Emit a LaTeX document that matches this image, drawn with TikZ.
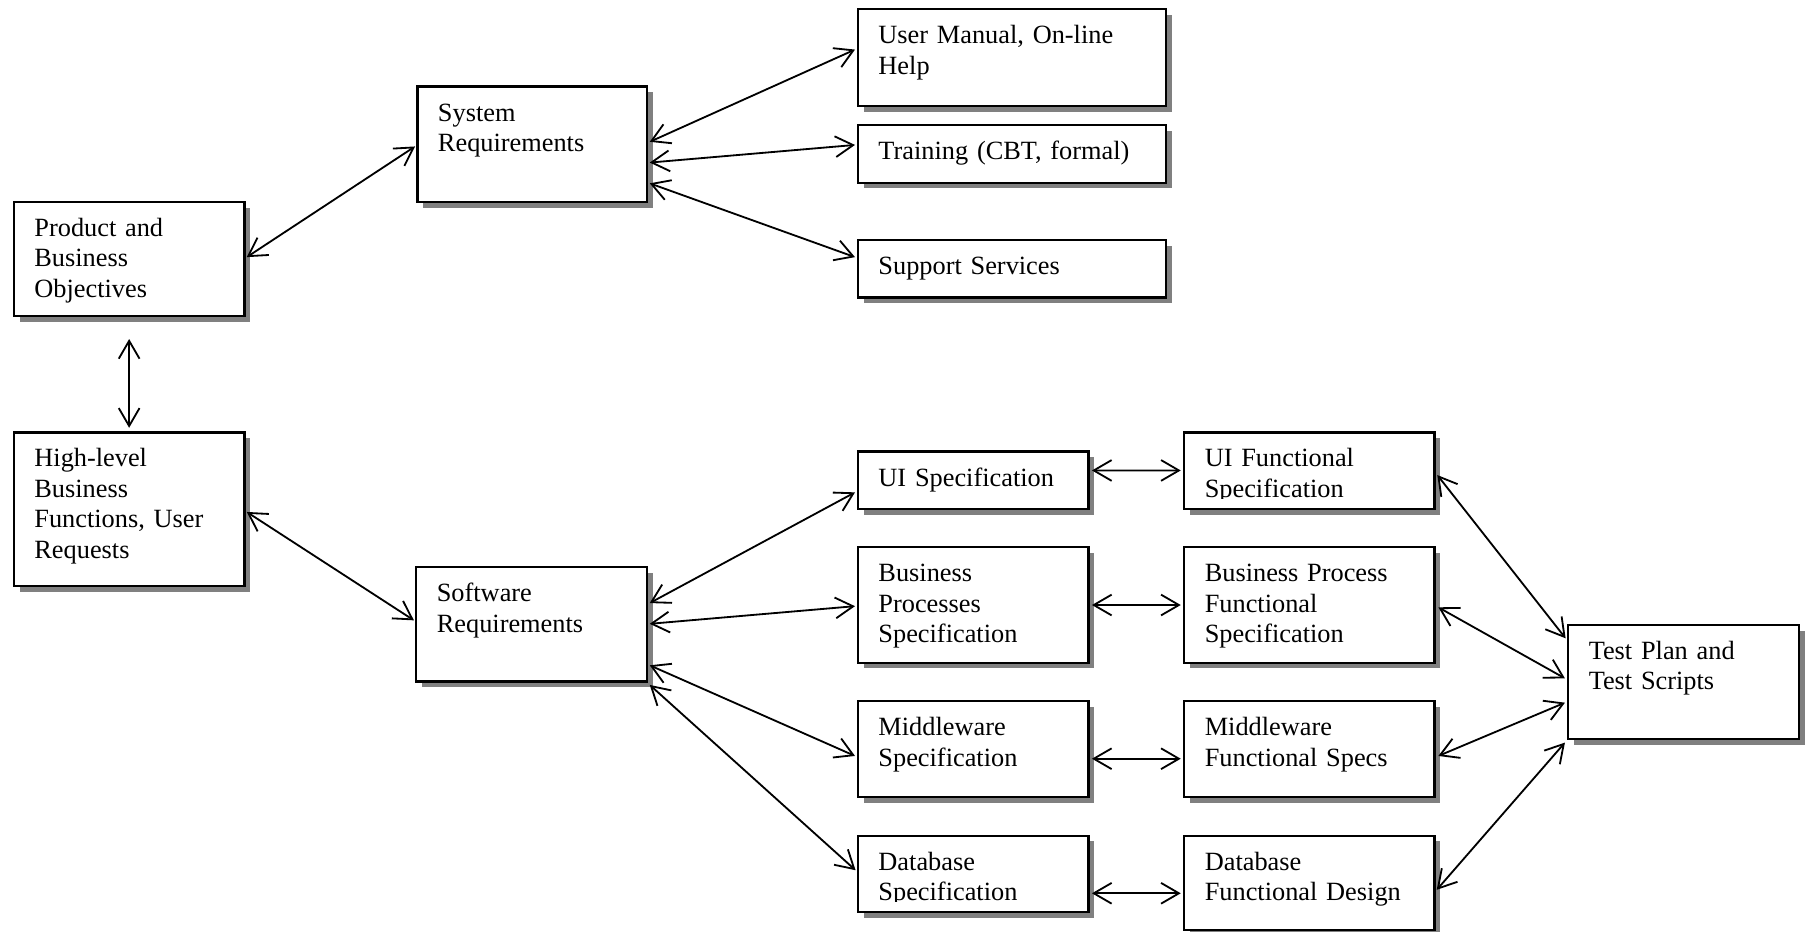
\documentclass[tikz,border=0pt]{standalone}
\usepackage{fontspec}
\setmainfont{Liberation Serif}
\usetikzlibrary{shadows,arrows.meta}
\def\pxu{0.02cm}
\definecolor{shadowgray}{HTML}{808080}
\tikzset{
  rbox/.style={draw, fill=white, line width=1.1pt, inner sep=0pt, outer sep=0pt,
    anchor=north west,
    drop shadow={shadow xshift=0.1cm, shadow yshift=-0.1cm, fill=shadowgray, opacity=1}},
  rtxt/.style={anchor=base west, inner sep=0pt, align=left, text width=8cm,
    font=\fontsize{13pt}{15pt}\selectfont},
  conn/.style={line width=0.9pt, {Straight Barb[length=0.31cm,width=0.36cm]}-{Straight Barb[length=0.31cm,width=0.36cm]}}
}
\newcommand\reqbox[6]{%
  \node[rbox, minimum width=#4*\pxu, minimum height=#5*\pxu] (#1) at (#2,#3) {};
  \begin{scope}
    \clip (#2,#3) rectangle ({#2+#4},{#3+#5-9});
    \node[rtxt] at ({#2+17.5},{#3+30}) {#6};
  \end{scope}}
\begin{document}
\begin{tikzpicture}[x=0.02cm, y=-0.02cm]
\useasboundingbox[fill=white] (0,0) rectangle (1568,808);
\reqbox{prod}{12}{175}{200}{99}{Product and\\Business\\Objectives}
\reqbox{sys}{362}{75}{199}{100}{System\\Requirements}
\reqbox{uman}{744}{8}{267}{84}{User Manual, On-line\\Help}
\reqbox{train}{744}{108.4}{267}{50}{Training (CBT, formal)}
\reqbox{supp}{744}{208}{267}{50}{Support Services}
\reqbox{high}{12}{375}{200}{133}{High-level\\Business\\Functions, User\\Requests}
\reqbox{soft}{361}{492}{200}{99}{Software\\Requirements}
\reqbox{uis}{744}{391.5}{200}{50}{UI Specification}
\reqbox{uif}{1027}{375}{217}{66.5}{UI Functional\\Specification}
\reqbox{bps}{744}{474.7}{200}{100}{Business\\Processes\\Specification}
\reqbox{bpf}{1027}{474.7}{217}{100}{Business Process\\Functional\\Specification}
\reqbox{mws}{744}{608}{200}{83}{Middleware\\Specification}
\reqbox{mwf}{1027}{608}{217}{83}{Middleware\\Functional Specs}
\reqbox{dbs}{744}{724.7}{200}{66}{Database\\Specification}
\reqbox{dbf}{1027}{724.7}{217}{82}{Database\\Functional Design}
\reqbox{test}{1360}{542}{200}{99}{Test Plan and\\Test Scripts}

\draw[conn] ([shift={(2,48)}]prod.north east) -- ([shift={(-2,52)}]sys.north west);
\draw[conn] ([shift={(2.5,48)}]sys.north east) -- ([shift={(-2.5,35)}]uman.north west);
\draw[conn] ([shift={(2.5,66)}]sys.north east) -- ([shift={(-2.5,17.3)}]train.north west);
\draw[conn] ([shift={(2.5,84)}]sys.north east) -- ([shift={(-2.5,15)}]supp.north west);
\draw[conn] ([shift={(0,20)}]prod.south) -- ([shift={(0,-4)}]high.north);
\draw[conn] ([shift={(2,69)}]high.north east) -- ([shift={(-2,46)}]soft.north west);
\draw[conn] ([shift={(2.5,31)}]soft.north east) -- ([shift={(-2.5,35.5)}]uis.north west);
\draw[conn] ([shift={(2.5,49)}]soft.north east) -- ([shift={(-2.5,51)}]bps.north west);
\draw[conn] ([shift={(2.5,85)}]soft.north east) -- ([shift={(-2.5,47.6)}]mws.north west);
\draw[conn] ([shift={(2.5,102)}]soft.north east) -- ([shift={(-2,30)}]dbs.north west);
\draw[conn] ([shift={(3,16.5)}]uis.north east) -- ([shift={(-3,33)}]uif.north west);
\draw[conn] ([shift={(3,50)}]bps.north east) -- ([shift={(-3,50)}]bpf.north west);
\draw[conn] ([shift={(3,50)}]mws.north east) -- ([shift={(-3,50)}]mwf.north west);
\draw[conn] ([shift={(3,50)}]dbs.north east) -- ([shift={(-3,50)}]dbf.north west);
\draw[conn] ([shift={(2.5,37)}]uif.north east) -- ([shift={(-2.2,11.6)}]test.north west);
\draw[conn] ([shift={(3.4,52)}]bpf.north east) -- ([shift={(-2.8,46.3)}]test.north west);
\draw[conn] ([shift={(3.4,47.6)}]mwf.north east) -- ([shift={(-2.8,67.4)}]test.north west);
\draw[conn] ([shift={(2,47)}]dbf.north east) -- ([shift={(-2.8,102)}]test.north west);
\end{tikzpicture}
\end{document}
